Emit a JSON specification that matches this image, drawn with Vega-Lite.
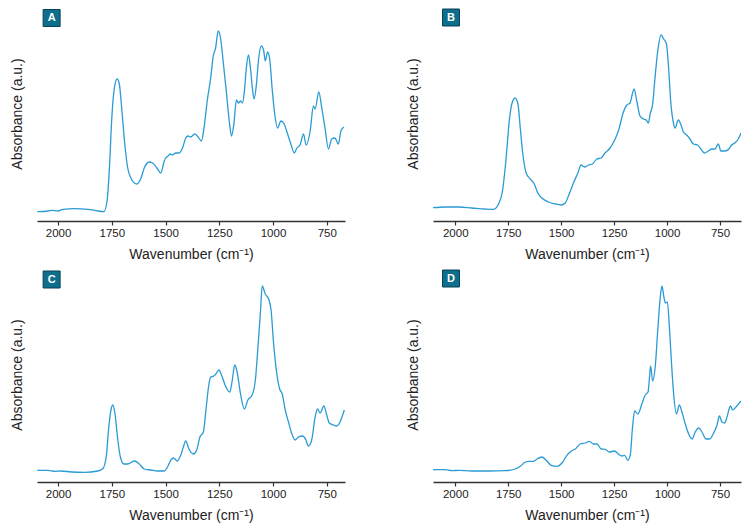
{
  "$schema": "https://vega.github.io/schema/vega-lite/v6.json",
  "padding": {"left": 10, "top": 6, "right": 5, "bottom": 5},
  "bounds": "flush",
  "spacing": {"row": 46, "column": 88},
  "columns": 2,
  "config": {
    "view": {"stroke": null},
    "axisX": {
      "format": "d",
      "labelExpr": "datum.value % 250 === 0 ? datum.label : ''",
      "labelOverlap": false,
      "labelFlush": false,
      "grid": false,
      "domainColor": "#333333",
      "domainWidth": 1.5,
      "tickColor": "#333333",
      "tickWidth": 1.2,
      "tickSize": 4,
      "labelFont": "Liberation Sans",
      "labelFontSize": 11.5,
      "labelColor": "#222222",
      "labelPadding": 2,
      "titleFont": "Liberation Sans",
      "titleFontSize": 14,
      "titleFontWeight": "normal",
      "titleColor": "#222222",
      "titlePadding": 9
    },
    "axisY": {
      "domain": false,
      "ticks": false,
      "labels": false,
      "grid": false,
      "titleFont": "Liberation Sans",
      "titleFontSize": 14,
      "titleFontWeight": "normal",
      "titleColor": "#222222",
      "titlePadding": 13
    }
  },
  "datasets": {
    "A": [
      {"wn":2097,"abs":9.3},{"wn":2046,"abs":10},{"wn":2031,"abs":10.7},{"wn":2000,"abs":10},{"wn":1977,"abs":11.7},{"wn":1923,"abs":12.3},{"wn":1861,"abs":11.7},{"wn":1815,"abs":10},{"wn":1787,"abs":9.3},{"wn":1772,"abs":20},{"wn":1761,"abs":53},{"wn":1750,"abs":103},{"wn":1738,"abs":133},{"wn":1725,"abs":142},{"wn":1715,"abs":137},{"wn":1704,"abs":113},{"wn":1691,"abs":80},{"wn":1676,"abs":53},{"wn":1661,"abs":43},{"wn":1645,"abs":38},{"wn":1633,"abs":37},{"wn":1614,"abs":43},{"wn":1599,"abs":53},{"wn":1576,"abs":59},{"wn":1560,"abs":58},{"wn":1540,"abs":53},{"wn":1522,"abs":48},{"wn":1506,"abs":60},{"wn":1499,"abs":63},{"wn":1488,"abs":65},{"wn":1478,"abs":67},{"wn":1468,"abs":66},{"wn":1452,"abs":68},{"wn":1437,"abs":68},{"wn":1421,"abs":73},{"wn":1406,"abs":83},{"wn":1395,"abs":85},{"wn":1383,"abs":84},{"wn":1364,"abs":87},{"wn":1352,"abs":85},{"wn":1333,"abs":80},{"wn":1321,"abs":93},{"wn":1306,"abs":120},{"wn":1290,"abs":143},{"wn":1278,"abs":165},{"wn":1267,"abs":173},{"wn":1255,"abs":190},{"wn":1244,"abs":183},{"wn":1232,"abs":160},{"wn":1216,"abs":127},{"wn":1202,"abs":97},{"wn":1193,"abs":85},{"wn":1182,"abs":97},{"wn":1170,"abs":121},{"wn":1161,"abs":118},{"wn":1151,"abs":120},{"wn":1142,"abs":118},{"wn":1133,"abs":130},{"wn":1124,"abs":153},{"wn":1114,"abs":166},{"wn":1105,"abs":153},{"wn":1096,"abs":133},{"wn":1088,"abs":122},{"wn":1077,"abs":137},{"wn":1067,"abs":162},{"wn":1054,"abs":175},{"wn":1043,"abs":170},{"wn":1036,"abs":160},{"wn":1025,"abs":169},{"wn":1016,"abs":163},{"wn":1003,"abs":130},{"wn":992,"abs":107},{"wn":979,"abs":93},{"wn":963,"abs":100},{"wn":948,"abs":97},{"wn":932,"abs":87},{"wn":917,"abs":77},{"wn":901,"abs":68},{"wn":889,"abs":73},{"wn":874,"abs":76},{"wn":858,"abs":87},{"wn":846,"abs":76},{"wn":827,"abs":90},{"wn":812,"abs":115},{"wn":804,"abs":112},{"wn":787,"abs":129},{"wn":773,"abs":113},{"wn":758,"abs":93},{"wn":742,"abs":72},{"wn":727,"abs":82},{"wn":712,"abs":83},{"wn":696,"abs":77},{"wn":684,"abs":90},{"wn":670,"abs":94}
    ],
    "B": [
      {"wn":2105,"abs":13.3},{"wn":2047,"abs":14},{"wn":1984,"abs":14},{"wn":1921,"abs":13},{"wn":1859,"abs":12},{"wn":1819,"abs":11.7},{"wn":1796,"abs":16.7},{"wn":1777,"abs":30},{"wn":1761,"abs":60},{"wn":1745,"abs":100},{"wn":1733,"abs":117},{"wn":1717,"abs":123},{"wn":1704,"abs":117},{"wn":1693,"abs":93},{"wn":1681,"abs":67},{"wn":1665,"abs":48},{"wn":1646,"abs":42},{"wn":1627,"abs":37},{"wn":1610,"abs":28},{"wn":1591,"abs":23},{"wn":1560,"abs":19},{"wn":1528,"abs":17},{"wn":1500,"abs":16},{"wn":1481,"abs":18},{"wn":1462,"abs":27},{"wn":1442,"abs":38},{"wn":1421,"abs":48},{"wn":1406,"abs":56},{"wn":1390,"abs":54},{"wn":1371,"abs":56},{"wn":1352,"abs":57},{"wn":1332,"abs":62},{"wn":1311,"abs":63},{"wn":1293,"abs":68},{"wn":1269,"abs":73},{"wn":1245,"abs":82},{"wn":1227,"abs":92},{"wn":1209,"abs":107},{"wn":1190,"abs":116},{"wn":1175,"abs":118},{"wn":1164,"abs":127},{"wn":1156,"abs":132},{"wn":1143,"abs":120},{"wn":1128,"abs":105},{"wn":1112,"abs":102},{"wn":1099,"abs":101},{"wn":1088,"abs":98},{"wn":1080,"abs":107},{"wn":1068,"abs":117},{"wn":1057,"abs":143},{"wn":1044,"abs":170},{"wn":1028,"abs":186},{"wn":1016,"abs":182},{"wn":1003,"abs":177},{"wn":994,"abs":157},{"wn":983,"abs":120},{"wn":970,"abs":98},{"wn":962,"abs":93},{"wn":947,"abs":101},{"wn":934,"abs":96},{"wn":923,"abs":89},{"wn":907,"abs":86},{"wn":892,"abs":82},{"wn":876,"abs":77},{"wn":856,"abs":76},{"wn":840,"abs":72},{"wn":824,"abs":68},{"wn":805,"abs":70},{"wn":790,"abs":72},{"wn":774,"abs":72},{"wn":758,"abs":77},{"wn":746,"abs":70},{"wn":727,"abs":70},{"wn":708,"abs":72},{"wn":695,"abs":76},{"wn":680,"abs":78},{"wn":664,"abs":82},{"wn":651,"abs":88}
    ],
    "C": [
      {"wn":2097,"abs":11.7},{"wn":2046,"abs":11.7},{"wn":2015,"abs":10.7},{"wn":1985,"abs":11},{"wn":1938,"abs":10},{"wn":1877,"abs":9.7},{"wn":1815,"abs":11},{"wn":1792,"abs":13.3},{"wn":1776,"abs":25},{"wn":1764,"abs":55},{"wn":1753,"abs":73},{"wn":1745,"abs":77},{"wn":1735,"abs":68},{"wn":1722,"abs":42},{"wn":1710,"abs":25},{"wn":1694,"abs":18},{"wn":1676,"abs":18},{"wn":1645,"abs":21},{"wn":1622,"abs":18},{"wn":1599,"abs":13},{"wn":1568,"abs":12},{"wn":1537,"abs":11},{"wn":1506,"abs":11},{"wn":1491,"abs":15},{"wn":1475,"abs":22},{"wn":1463,"abs":24},{"wn":1445,"abs":21},{"wn":1429,"abs":27},{"wn":1417,"abs":35},{"wn":1406,"abs":41},{"wn":1391,"abs":33},{"wn":1370,"abs":28},{"wn":1355,"abs":32},{"wn":1340,"abs":45},{"wn":1324,"abs":50},{"wn":1312,"abs":72},{"wn":1298,"abs":98},{"wn":1290,"abs":105},{"wn":1275,"abs":106},{"wn":1266,"abs":108},{"wn":1252,"abs":112},{"wn":1236,"abs":105},{"wn":1221,"abs":96},{"wn":1201,"abs":90},{"wn":1190,"abs":101},{"wn":1178,"abs":117},{"wn":1167,"abs":110},{"wn":1151,"abs":88},{"wn":1133,"abs":73},{"wn":1117,"abs":82},{"wn":1097,"abs":87},{"wn":1082,"abs":102},{"wn":1071,"abs":132},{"wn":1059,"abs":168},{"wn":1050,"abs":196},{"wn":1036,"abs":188},{"wn":1020,"abs":183},{"wn":1009,"abs":172},{"wn":997,"abs":138},{"wn":982,"abs":108},{"wn":969,"abs":93},{"wn":957,"abs":88},{"wn":943,"abs":72},{"wn":928,"abs":60},{"wn":912,"abs":48},{"wn":897,"abs":42},{"wn":881,"abs":45},{"wn":861,"abs":46},{"wn":847,"abs":42},{"wn":835,"abs":36},{"wn":820,"abs":42},{"wn":804,"abs":65},{"wn":793,"abs":73},{"wn":781,"abs":69},{"wn":763,"abs":76},{"wn":750,"abs":67},{"wn":738,"abs":59},{"wn":719,"abs":57},{"wn":704,"abs":56},{"wn":688,"abs":60},{"wn":676,"abs":67},{"wn":668,"abs":72}
    ],
    "D": [
      {"wn":2105,"abs":12.3},{"wn":2047,"abs":12.3},{"wn":2016,"abs":11.3},{"wn":1984,"abs":11.7},{"wn":1921,"abs":11},{"wn":1843,"abs":11},{"wn":1764,"abs":11.3},{"wn":1717,"abs":13},{"wn":1693,"abs":15.7},{"wn":1669,"abs":20},{"wn":1651,"abs":20.7},{"wn":1630,"abs":20.7},{"wn":1614,"abs":23},{"wn":1591,"abs":25},{"wn":1570,"abs":21.7},{"wn":1547,"abs":16.7},{"wn":1520,"abs":15.7},{"wn":1496,"abs":19},{"wn":1473,"abs":26.7},{"wn":1452,"abs":31},{"wn":1433,"abs":33},{"wn":1410,"abs":38},{"wn":1386,"abs":39},{"wn":1367,"abs":40.7},{"wn":1347,"abs":38},{"wn":1331,"abs":38},{"wn":1311,"abs":33},{"wn":1292,"abs":32.7},{"wn":1273,"abs":30},{"wn":1248,"abs":31},{"wn":1229,"abs":27.7},{"wn":1213,"abs":26},{"wn":1200,"abs":26.7},{"wn":1186,"abs":21.7},{"wn":1174,"abs":26.7},{"wn":1163,"abs":55},{"wn":1153,"abs":71},{"wn":1138,"abs":68},{"wn":1119,"abs":78},{"wn":1103,"abs":87},{"wn":1090,"abs":90},{"wn":1084,"abs":102},{"wn":1078,"abs":116},{"wn":1068,"abs":101},{"wn":1056,"abs":115},{"wn":1043,"abs":155},{"wn":1032,"abs":185},{"wn":1024,"abs":196},{"wn":1015,"abs":185},{"wn":1008,"abs":179},{"wn":999,"abs":180},{"wn":989,"abs":155},{"wn":980,"abs":122},{"wn":969,"abs":88},{"wn":956,"abs":68},{"wn":942,"abs":77},{"wn":930,"abs":70},{"wn":914,"abs":58},{"wn":898,"abs":48},{"wn":882,"abs":43},{"wn":867,"abs":50},{"wn":851,"abs":54},{"wn":835,"abs":50},{"wn":816,"abs":43},{"wn":799,"abs":43},{"wn":780,"abs":49},{"wn":764,"abs":57},{"wn":753,"abs":66},{"wn":741,"abs":60},{"wn":728,"abs":59},{"wn":717,"abs":65},{"wn":701,"abs":76},{"wn":690,"abs":72},{"wn":675,"abs":75},{"wn":651,"abs":81}
    ]
  },
  "concat": [
    {
      "width": 308, "height": 215,
      "layer": [
        {"data": {"name": "A"}, "mark": {"type": "line", "color": "#2a9bd4", "strokeWidth": 1.3, "interpolate": "monotone", "clip": true},
         "encoding": {"x": {"field": "wn", "type": "quantitative", "scale": {"domain": [2098, 665], "nice": false, "zero": false}, "title": "Wavenumber (cm⁻¹)", "axis": {"values": [2000, 1875, 1750, 1625, 1500, 1375, 1250, 1125, 1000, 875, 750]}},
                      "y": {"field": "abs", "type": "quantitative", "scale": {"domain": [0, 215], "nice": false}, "title": "Absorbance (a.u.)"}}},
        {"data": {"values": [{"label": "A"}]}, "mark": {"type": "point", "shape": "square", "filled": true, "size": 289, "color": "#0e6f8c", "stroke": "#0a4153", "strokeWidth": 1, "opacity": 1},
         "encoding": {"x": {"datum": 2030, "type": "quantitative"}, "y": {"datum": 203, "type": "quantitative"}}},
        {"data": {"values": [{"label": "A"}]}, "mark": {"type": "text", "color": "#ffffff", "font": "Liberation Sans", "fontWeight": "bold", "fontSize": 11, "baseline": "middle"},
         "encoding": {"x": {"datum": 2030, "type": "quantitative"}, "y": {"datum": 203, "type": "quantitative"}, "text": {"field": "label"}}}
      ]
    },
    {
      "width": 308, "height": 215,
      "layer": [
        {"data": {"name": "B"}, "mark": {"type": "line", "color": "#2a9bd4", "strokeWidth": 1.3, "interpolate": "monotone", "clip": true},
         "encoding": {"x": {"field": "wn", "type": "quantitative", "scale": {"domain": [2105, 651], "nice": false, "zero": false}, "title": "Wavenumber (cm⁻¹)", "axis": {"values": [2000, 1875, 1750, 1625, 1500, 1375, 1250, 1125, 1000, 875, 750]}},
                      "y": {"field": "abs", "type": "quantitative", "scale": {"domain": [0, 215], "nice": false}, "title": "Absorbance (a.u.)"}}},
        {"data": {"values": [{"label": "B"}]}, "mark": {"type": "point", "shape": "square", "filled": true, "size": 289, "color": "#0e6f8c", "stroke": "#0a4153", "strokeWidth": 1, "opacity": 1},
         "encoding": {"x": {"datum": 2020, "type": "quantitative"}, "y": {"datum": 203.5, "type": "quantitative"}}},
        {"data": {"values": [{"label": "B"}]}, "mark": {"type": "text", "color": "#ffffff", "font": "Liberation Sans", "fontWeight": "bold", "fontSize": 11, "baseline": "middle"},
         "encoding": {"x": {"datum": 2020, "type": "quantitative"}, "y": {"datum": 203.5, "type": "quantitative"}, "text": {"field": "label"}}}
      ]
    },
    {
      "width": 308, "height": 215,
      "layer": [
        {"data": {"name": "C"}, "mark": {"type": "line", "color": "#2a9bd4", "strokeWidth": 1.3, "interpolate": "monotone", "clip": true},
         "encoding": {"x": {"field": "wn", "type": "quantitative", "scale": {"domain": [2098, 665], "nice": false, "zero": false}, "title": "Wavenumber (cm⁻¹)", "axis": {"values": [2000, 1875, 1750, 1625, 1500, 1375, 1250, 1125, 1000, 875, 750]}},
                      "y": {"field": "abs", "type": "quantitative", "scale": {"domain": [0, 215], "nice": false}, "title": "Absorbance (a.u.)"}}},
        {"data": {"values": [{"label": "C"}]}, "mark": {"type": "point", "shape": "square", "filled": true, "size": 289, "color": "#0e6f8c", "stroke": "#0a4153", "strokeWidth": 1, "opacity": 1},
         "encoding": {"x": {"datum": 2030, "type": "quantitative"}, "y": {"datum": 202.5, "type": "quantitative"}}},
        {"data": {"values": [{"label": "C"}]}, "mark": {"type": "text", "color": "#ffffff", "font": "Liberation Sans", "fontWeight": "bold", "fontSize": 11, "baseline": "middle"},
         "encoding": {"x": {"datum": 2030, "type": "quantitative"}, "y": {"datum": 202.5, "type": "quantitative"}, "text": {"field": "label"}}}
      ]
    },
    {
      "width": 308, "height": 215,
      "layer": [
        {"data": {"name": "D"}, "mark": {"type": "line", "color": "#2a9bd4", "strokeWidth": 1.3, "interpolate": "monotone", "clip": true},
         "encoding": {"x": {"field": "wn", "type": "quantitative", "scale": {"domain": [2105, 651], "nice": false, "zero": false}, "title": "Wavenumber (cm⁻¹)", "axis": {"values": [2000, 1875, 1750, 1625, 1500, 1375, 1250, 1125, 1000, 875, 750]}},
                      "y": {"field": "abs", "type": "quantitative", "scale": {"domain": [0, 215], "nice": false}, "title": "Absorbance (a.u.)"}}},
        {"data": {"values": [{"label": "D"}]}, "mark": {"type": "point", "shape": "square", "filled": true, "size": 289, "color": "#0e6f8c", "stroke": "#0a4153", "strokeWidth": 1, "opacity": 1},
         "encoding": {"x": {"datum": 2020, "type": "quantitative"}, "y": {"datum": 203.5, "type": "quantitative"}}},
        {"data": {"values": [{"label": "D"}]}, "mark": {"type": "text", "color": "#ffffff", "font": "Liberation Sans", "fontWeight": "bold", "fontSize": 11, "baseline": "middle"},
         "encoding": {"x": {"datum": 2020, "type": "quantitative"}, "y": {"datum": 203.5, "type": "quantitative"}, "text": {"field": "label"}}}
      ]
    }
  ]
}
